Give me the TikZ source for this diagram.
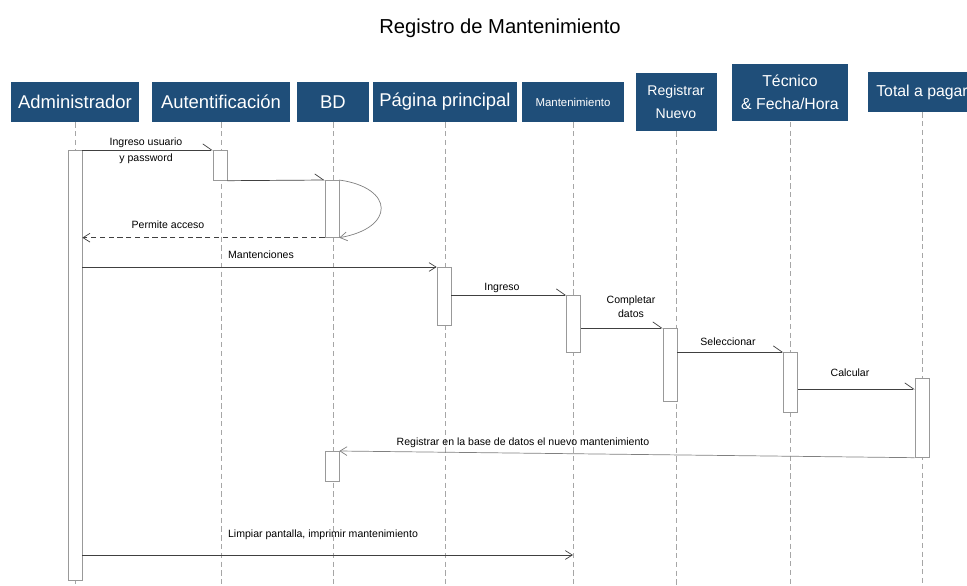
\documentclass[tikz,border=0pt]{standalone}
\usepackage{fontspec}
\setmainfont{Liberation Sans}
\usetikzlibrary{arrows.meta}
\definecolor{hdrblue}{RGB}{31,78,121}
\tikzset{
  hdr/.style={fill=hdrblue, text=white, align=center, inner sep=1pt},
  act/.style={draw=gray!80, fill=white, anchor=north, minimum width=0.28cm, inner sep=0pt},
  life/.style={gray!70, dash pattern=on 3pt off 2pt},
  msg/.style={draw=gray!50!black, -{Straight Barb[length=4pt,width=5pt]}},
  half/.style={draw=gray!50!black, -{Straight Barb[left,length=5pt,width=7pt]}},
  ret/.style={msg, dash pattern=on 3pt off 2pt},
  lbl/.style={font=\fontsize{6}{8}\selectfont, align=center, inner sep=1pt}
}
\begin{document}
\begin{tikzpicture}[x=0.02cm,y=-0.02cm]
\useasboundingbox (0,0) rectangle (967,585);
\node (title) at (500,28) {\fontsize{11.5}{13}\selectfont Registro de Mantenimiento};
% objetos
\node[hdr, minimum width=2.56cm, minimum height=0.8cm, font=\fontsize{10.5}{12}\selectfont] (adm) at (75,102) {Administrador};
\node[hdr, minimum width=2.76cm, minimum height=0.8cm, font=\fontsize{10.5}{12}\selectfont] (aut) at (221,102) {Autentificación};
\node[hdr, minimum width=1.46cm, minimum height=0.8cm, font=\fontsize{10.5}{12}\selectfont] (bd) at (333,102) {BD};
\node[hdr, minimum width=2.9cm, minimum height=0.8cm, font=\fontsize{10.5}{12}\selectfont] (pag) at (445,102) {Página principal};
\node[hdr, minimum width=2.04cm, minimum height=0.8cm, font=\fontsize{6.5}{8}\selectfont] (man) at (573,102) {Mantenimiento};
\node[hdr, minimum width=1.62cm, minimum height=1.16cm, font=\fontsize{8}{13}\selectfont] (reg) at (676,102) {Registrar\\Nuevo};
\node[hdr, minimum width=2.32cm, minimum height=1.16cm, font=\fontsize{9}{13}\selectfont] (tec) at (790,92.5) {Técnico\\\& Fecha/Hora};
\node[hdr, minimum width=2.16cm, minimum height=0.8cm, font=\fontsize{9}{11}\selectfont] (tot) at (922,92) {Total a pagar};
% lineas de vida
\coordinate (bot) at (0,585);
\foreach \n in {adm,aut,bd,pag,man,reg,tec,tot}
  \draw[life] (\n.south) -- (\n.south |- bot);
% activaciones
\node[act, minimum height=8.6cm] (a1) at (75,150) {};
\node[act, minimum height=0.6cm] (a2) at (220,150) {};
\node[act, minimum height=1.14cm] (a3) at (332,180) {};
\node[act, minimum height=1.16cm] (a4) at (444,267) {};
\node[act, minimum height=1.14cm] (a5) at (573.5,295) {};
\node[act, minimum height=1.46cm] (a6) at (670,328) {};
\node[act, minimum height=1.2cm] (a7) at (790.5,352) {};
\node[act, minimum height=1.58cm] (a8) at (922,378) {};
\node[act, minimum height=0.6cm] (a9) at (332,451) {};
% mensajes
\draw[half] (a1.north east) -- (a2.north west);
\draw[half] (a2.south east) -- (a3.north west);
\draw[msg, draw=gray] (a3.north east) .. controls (395,188) and (395,228) .. (a3.south east);
\draw[ret] (a3.south west) -- (a1.east |- a3.south);
\draw[msg] (a1.east |- a4.north) -- (a4.north west);
\draw[half] (a4.east |- a5.north) -- (a5.north west);
\draw[half] (a5.east |- a6.north) -- (a6.north west);
\draw[half] (a6.east |- a7.north) -- (a7.north west);
\coordinate (c8) at (0,389);
\draw[half] (a7.east |- c8) -- (a8.west |- c8);
\draw[msg, draw=gray] (a8.south west) -- (a9.north east);
\coordinate (c10) at (0,555);
\draw[msg] (a1.east |- c10) -- (man.south |- c10);
% etiquetas
\node[lbl, font=\fontsize{6}{9}\selectfont] (l1) at (146,151) {Ingreso usuario\\y password};
\node[lbl] (l2) at (168,225) {Permite acceso};
\node[lbl] (l3) at (261,255) {Mantenciones};
\node[lbl] (l4) at (502,288) {Ingreso};
\node[lbl] (l5) at (631,307) {Completar\\datos};
\node[lbl] (l6) at (728,342) {Seleccionar};
\node[lbl] (l7) at (850,373) {Calcular};
\node[lbl] (l8) at (523,443) {Registrar en la base de datos el nuevo mantenimiento};
\node[lbl] (l9) at (323,535) {Limpiar pantalla, imprimir mantenimiento};
\end{tikzpicture}
\end{document}
